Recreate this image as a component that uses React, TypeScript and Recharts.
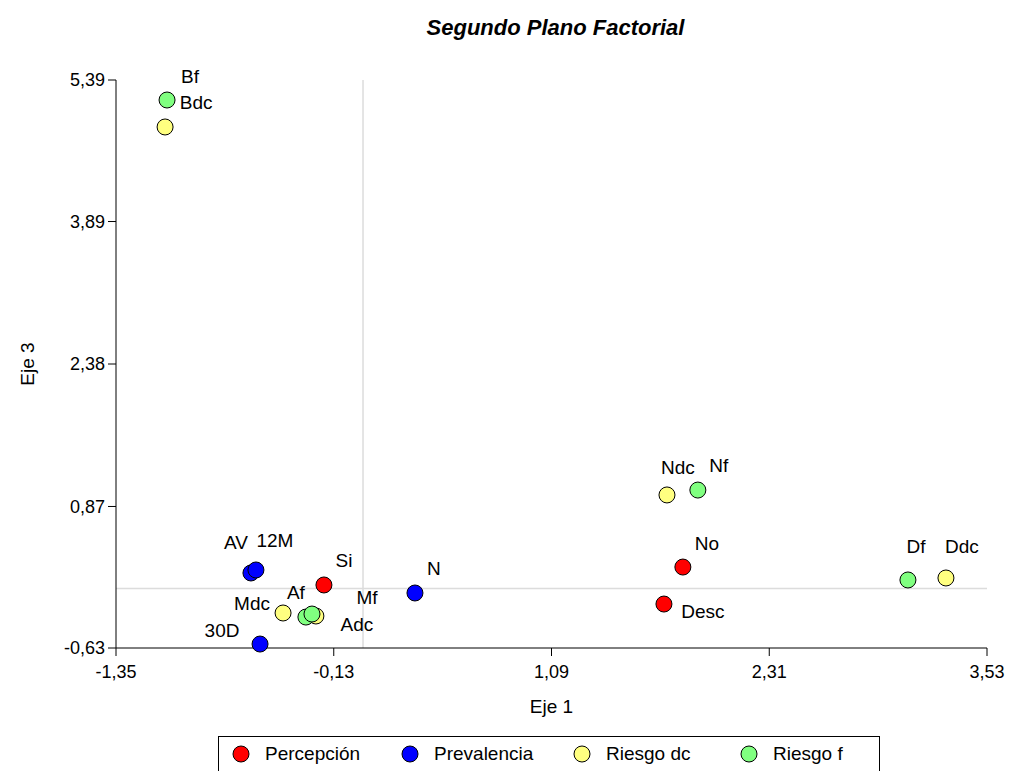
import { ScatterChart, Scatter, XAxis, YAxis, ReferenceLine, Legend } from 'recharts';

const FONT = '"Liberation Sans", Arial, sans-serif';

// point labels, coordinates (Eje 1, Eje 3)
const percepcion = [
    { name: 'Si', x: -0.185, y: 0.038 },
    { name: 'No', x: 1.826, y: 0.228 },
    { name: 'Desc', x: 1.72, y: -0.164 },
];
const prevalencia = [
    { name: 'AV', x: -0.594, y: 0.165 },
    { name: '12M', x: -0.566, y: 0.197 },
    { name: '30D', x: -0.543, y: -0.588 },
    { name: 'N', x: 0.325, y: -0.047 },
];
const riesgoDc = [
    { name: 'Bdc', x: -1.075, y: 4.892 },
    { name: 'Mdc', x: -0.414, y: -0.259 },
    { name: 'Adc', x: -0.23, y: -0.291 },
    { name: 'Ndc', x: 1.737, y: 0.992 },
    { name: 'Ddc', x: 3.3, y: 0.112 },
];
const riesgoF = [
    { name: 'Bf', x: -1.064, y: 5.178 },
    { name: 'Af', x: -0.286, y: -0.302 },
    { name: 'Mf', x: -0.252, y: -0.27 },
    { name: 'Nf', x: 1.91, y: 1.044 },
    { name: 'Df', x: 3.087, y: 0.091 },
];

const xTicks = [-1.35, -0.13, 1.09, 2.31, 3.53];
const yTicks = [-0.63, 0.87, 2.38, 3.89, 5.39];

// where each label sits relative to its point
const labelOffset: Record<string, [number, number]> = {
    Bf: [23, -24], Bdc: [31, -24], AV: [-15, -30], '12M': [19, -29],
    Si: [20, -24], N: [19, -24], Af: [-10, -25], Mf: [55, -17],
    Mdc: [-31, -9], Adc: [41, 8], '30D': [-38, -14], Ndc: [11, -27],
    Nf: [21, -25], No: [24, -24], Desc: [39, 7], Df: [8, -33], Ddc: [16, -31],
};

const series = [
    { name: 'Percepción', data: percepcion, color: '#ff0000' },
    { name: 'Prevalencia', data: prevalencia, color: '#0000ff' },
    { name: 'Riesgo dc', data: riesgoDc, color: '#ffff80' },
    { name: 'Riesgo f', data: riesgoF, color: '#80ff80' },
];

// legend dot centres, measured from the legend box's left edge
const legendDotX = [22, 191, 363, 530];

const fmt = (v: number) => v.toFixed(2).replace('.', ',');

function makeShape(color: string) {
    return (props: any) => {
        const { cx, cy, payload } = props;
        const [dx, dy] = labelOffset[payload.name] || [0, -20];
        return (
            <g>
                <circle cx={cx} cy={cy} r={8} fill={color} stroke="#000" strokeWidth={1} />
                <text x={cx + dx} y={cy + dy} textAnchor="middle" dominantBaseline="central"
                    fontSize={19} fontFamily={FONT} fill="#000">
                    {payload.name}
                </text>
            </g>
        );
    };
}

function LegendBox() {
    return (
        <div style={{
            position: 'relative', border: '1px solid #000', borderBottom: 'none', height: 40,
            boxSizing: 'border-box', fontFamily: FONT, fontSize: 19,
        }}>
            {series.map((s, i) => (
                <div key={s.name} style={{ position: 'absolute', left: legendDotX[i] - 10, top: 6, display: 'flex', alignItems: 'center' }}>
                    <svg width={20} height={20}>
                        <circle cx={10} cy={10} r={8} fill={s.color} stroke="#000" strokeWidth={1} />
                    </svg>
                    <span style={{ marginLeft: 14, whiteSpace: 'nowrap' }}>{s.name}</span>
                </div>
            ))}
        </div>
    );
}

function YTitle(props: any) {
    const { x, y, height } = props.viewBox;
    const cx = x + 27;
    const cy = y + height / 2;
    return (
        <text x={cx} y={cy} transform={`rotate(-90 ${cx} ${cy})`} textAnchor="middle"
            dominantBaseline="central" fontSize={19} fontFamily={FONT} fill="#000">
            Eje 3
        </text>
    );
}

export default function App() {
    return (
        <div style={{ position: 'absolute', left: 0, top: 0, width: 1011, height: 771, overflow: 'hidden', background: '#fff' }}>
            <div style={{
                position: 'absolute', top: 15, left: 0, width: 1111, textAlign: 'center',
                fontFamily: FONT, fontSize: 22, fontWeight: 'bold', fontStyle: 'italic',
            }}>
                Segundo Plano Factorial
            </div>
            <ScatterChart width={1011} height={771} margin={{ top: 80, right: 24, bottom: 0, left: 0 }}>
                <XAxis
                    type="number" dataKey="x" domain={[-1.35, 3.53]} ticks={xTicks}
                    tickFormatter={fmt} stroke="#000" tickSize={8} tickMargin={9} height={123}
                    tick={{ fill: '#000', fontSize: 18, fontFamily: FONT }}
                    label={{ value: 'Eje 1', position: 'insideTop', offset: 52, fill: '#000', fontSize: 19, fontFamily: FONT }}
                />
                <YAxis
                    type="number" dataKey="y" domain={[-0.63, 5.39]} ticks={yTicks}
                    tickFormatter={fmt} stroke="#000" tickSize={8} tickMargin={3} width={116}
                    tick={{ fill: '#000', fontSize: 18, fontFamily: FONT }}
                    label={<YTitle />}
                />
                <ReferenceLine x={0.034} stroke="#dcdcdc" strokeWidth={1.5} />
                <ReferenceLine y={0} stroke="#dcdcdc" strokeWidth={1.5} />
                {series.map(s => (
                    <Scatter key={s.name} name={s.name} data={s.data} fill={s.color}
                        shape={makeShape(s.color)} isAnimationActive={false} />
                ))}
                <Legend
                    layout="horizontal" verticalAlign="middle" align="center"
                    wrapperStyle={{ top: 736, left: 218, width: 662, height: 40 }}
                    content={() => <LegendBox />}
                />
            </ScatterChart>
        </div>
    );
}
